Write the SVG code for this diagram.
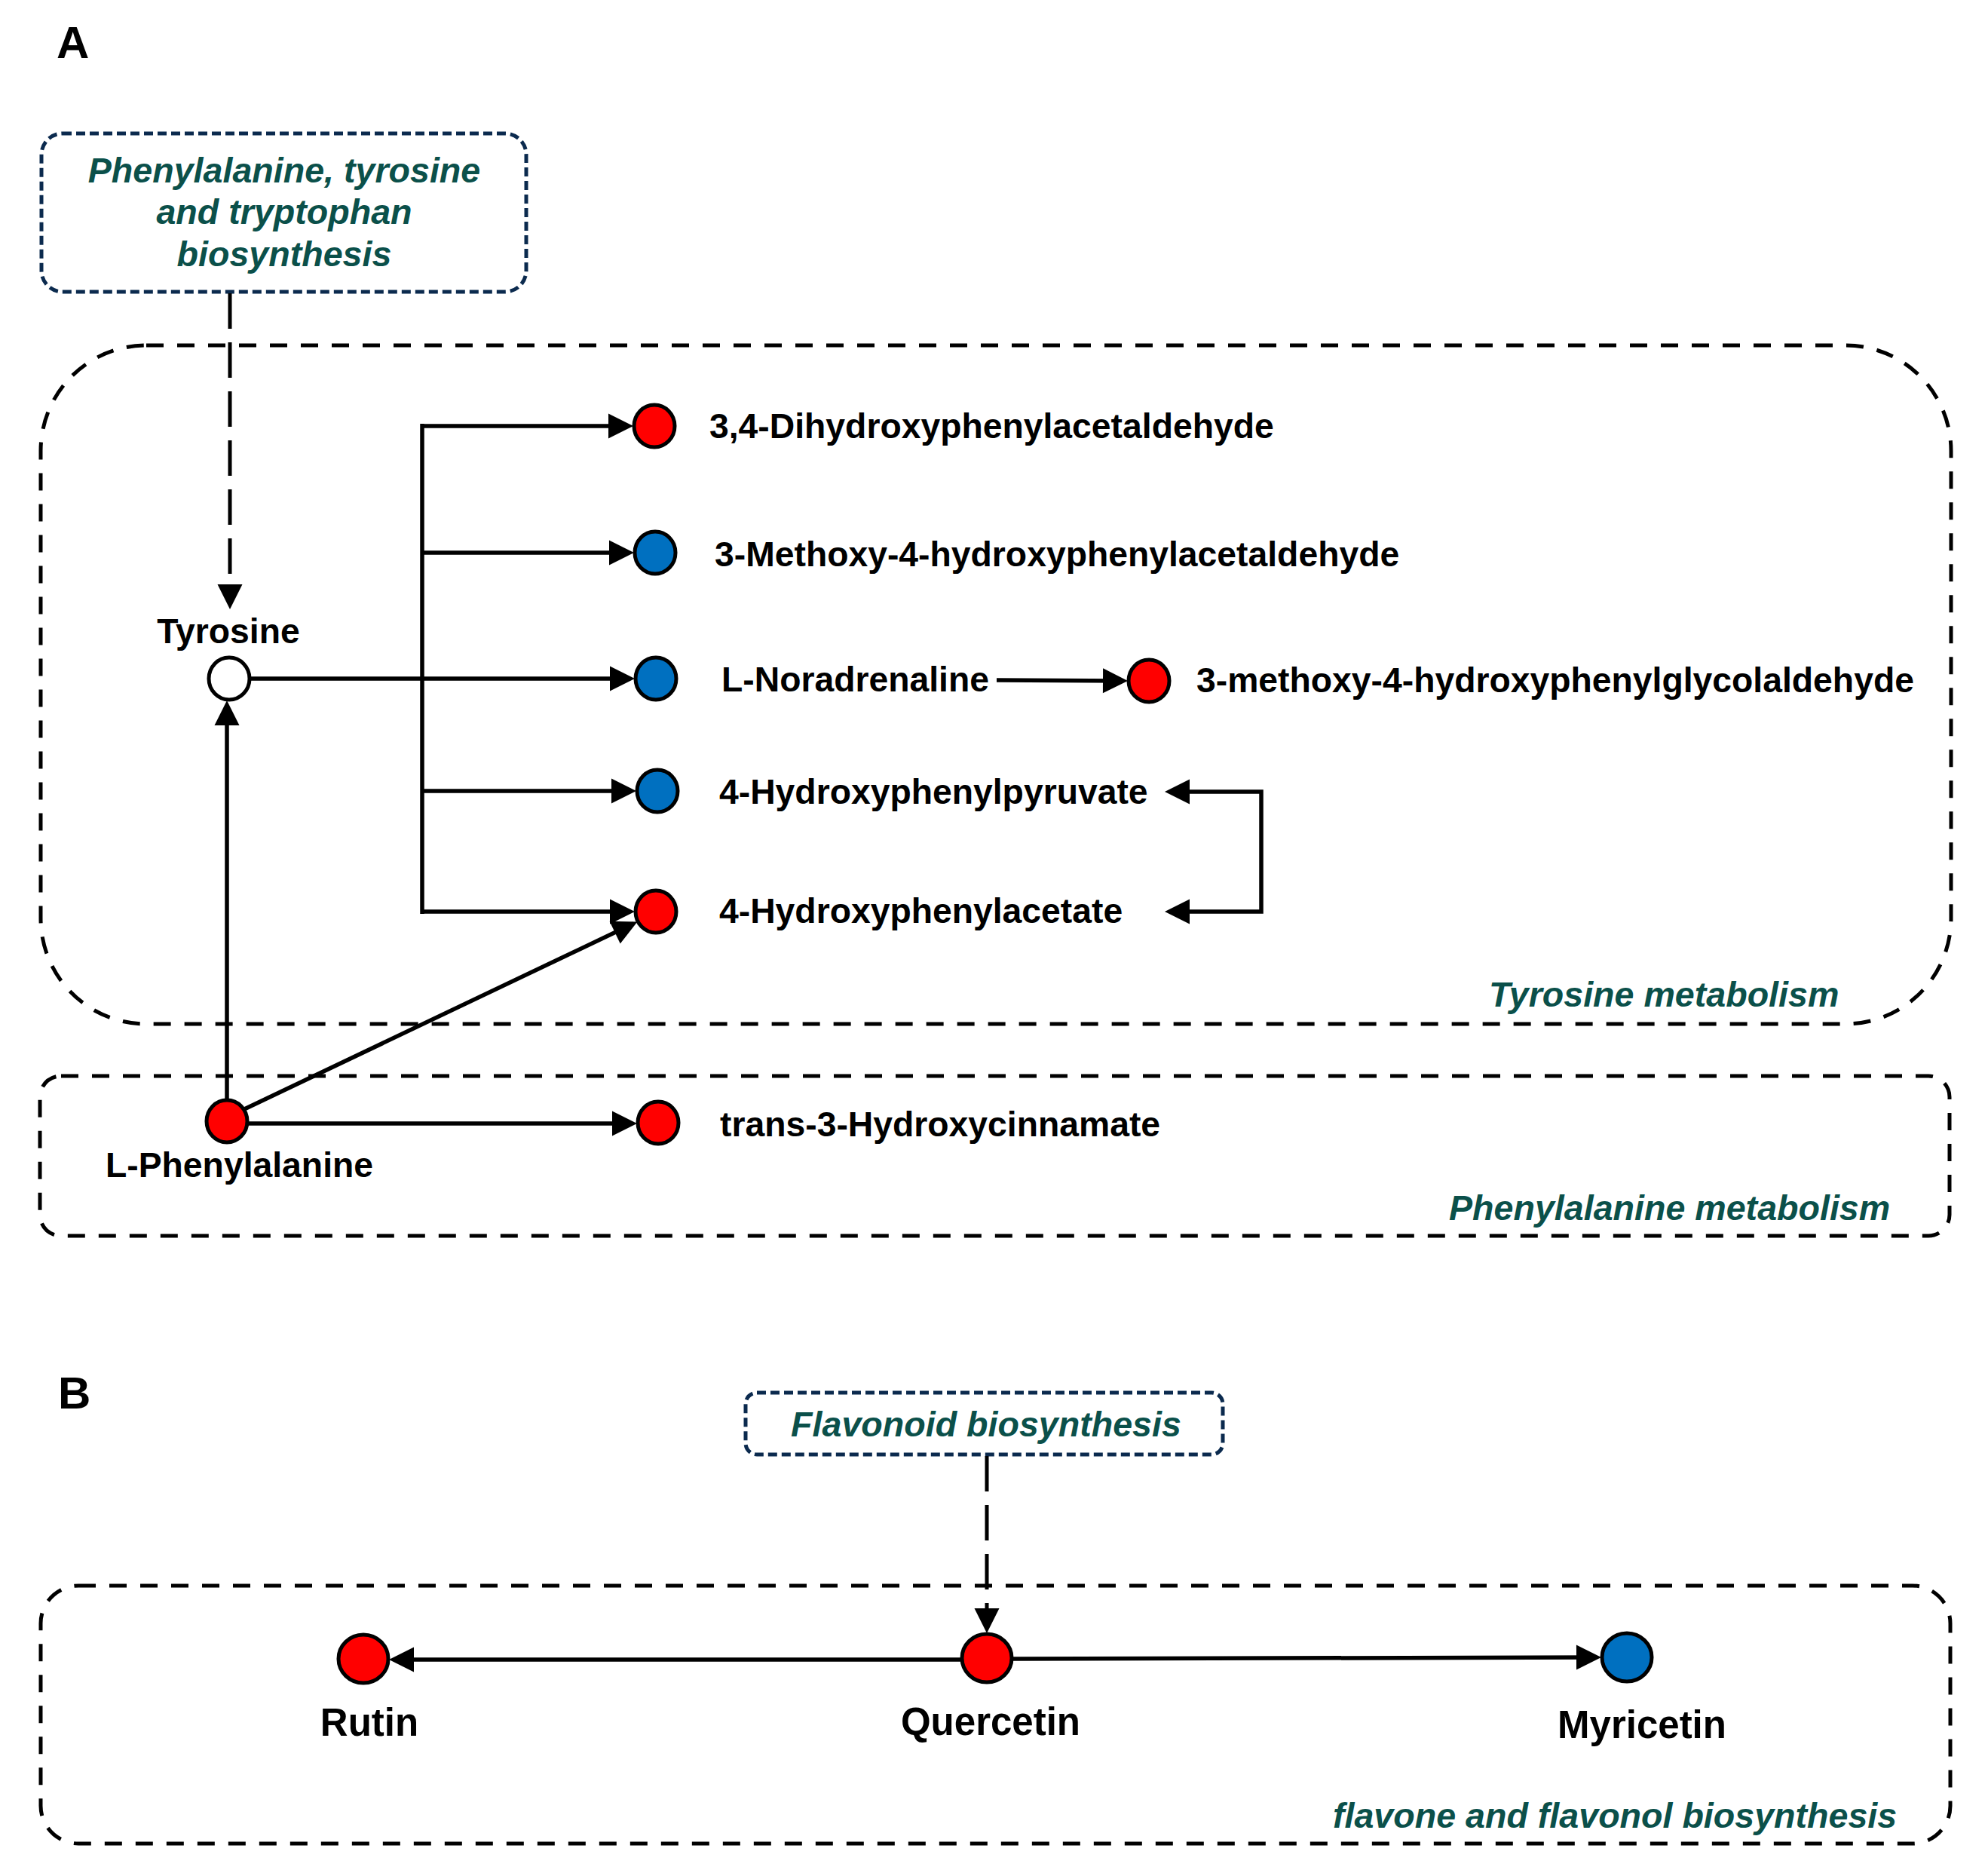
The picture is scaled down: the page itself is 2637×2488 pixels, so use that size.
<svg xmlns="http://www.w3.org/2000/svg" width="2637" height="2488" viewBox="0 0 2637 2488">
<style>
text{font-family:"Liberation Sans",Arial,sans-serif;font-weight:bold;}
.lbl{font-size:46.3px;fill:#000;}
.lblB{font-size:51px;fill:#000;}
.grp{font-size:46.6px;font-style:italic;fill:#0B504A;}
.panel{font-size:60px;fill:#000;}
.box{fill:none;stroke:#000;stroke-width:5;stroke-dasharray:23 18;}
.nbox{fill:none;stroke:#0B2A4E;stroke-width:5;stroke-dasharray:12 6;}
.node{stroke:#000;stroke-width:5;}
.red{fill:#FF0000;}
.blue{fill:#0070C0;}
.white{fill:#FFFFFF;}
.edge{fill:none;stroke:#000;stroke-width:5.5;marker-end:url(#ah);}
.dedge{fill:none;stroke:#000;stroke-width:5;stroke-dasharray:47 18;marker-end:url(#ah);}
.plain{fill:none;stroke:#000;stroke-width:5.5;}
</style>
<defs>
<marker id="ah" markerUnits="userSpaceOnUse" markerWidth="34" markerHeight="34" refX="27" refY="16.5" orient="auto-start-reverse" overflow="visible">
<path d="M0,0 L33,16.5 L0,33 Z" fill="#000"/>
</marker>
</defs>
<rect width="2637" height="2488" fill="#FFFFFF"/>

<text class="panel" x="75" y="77">A</text>
<text class="panel" x="77" y="1868">B</text>

<g id="box-ptt">
<rect class="nbox" x="55" y="177" width="643" height="210" rx="28" ry="28"/>
<text class="grp" text-anchor="middle" x="377" y="242">Phenylalanine, tyrosine</text>
<text class="grp" text-anchor="middle" x="377" y="297">and tryptophan</text>
<text class="grp" text-anchor="middle" x="377" y="353">biosynthesis</text>
</g>
<g id="box-tyrosine-metabolism">
<rect class="box" x="54" y="458" width="2534" height="900" rx="140" ry="140"/>
<text class="grp" x="1975" y="1335">Tyrosine metabolism</text>
</g>
<g id="box-phenylalanine-metabolism">
<rect class="box" x="53" y="1427" width="2533" height="212" rx="28" ry="28"/>
<text class="grp" x="1922" y="1618">Phenylalanine metabolism</text>
</g>
<g id="box-flavonoid">
<rect class="nbox" x="989" y="1847" width="633" height="82" rx="15" ry="15"/>
<text class="grp" text-anchor="middle" x="1308" y="1905">Flavonoid biosynthesis</text>
</g>
<g id="box-flavone">
<rect class="box" x="54" y="2103" width="2533" height="342" rx="50" ry="50"/>
<text class="grp" x="1768" y="2424">flavone and flavonol biosynthesis</text>
</g>

<g id="connectors">
<line class="dedge" x1="305" y1="389" x2="305" y2="802"/>
<line class="plain" x1="560" y1="562" x2="560" y2="1212"/>
<line class="edge" x1="558" y1="565" x2="834" y2="565"/>
<line class="edge" x1="560" y1="733" x2="835" y2="733"/>
<line class="edge" x1="332" y1="900" x2="836" y2="900"/>
<line class="edge" x1="560" y1="1049" x2="838" y2="1049"/>
<line class="edge" x1="558" y1="1209" x2="836" y2="1209"/>
<line class="edge" x1="1322" y1="902" x2="1490" y2="903"/>
<path class="plain" d="M1551,1050 H1673 V1209 H1551" style="marker-start:url(#ah);marker-end:url(#ah)"/>
<line class="edge" x1="301" y1="1459" x2="301" y2="935"/>
<line class="edge" x1="322" y1="1472" x2="840" y2="1225"/>
<line class="edge" x1="329" y1="1490" x2="839" y2="1490"/>
<line class="dedge" x1="1309" y1="1931" x2="1309" y2="2160"/>
<line class="edge" x1="1275" y1="2201" x2="522" y2="2201"/>
<line class="edge" x1="1343" y1="2200" x2="2118" y2="2198"/>
</g>

<g id="node-tyrosine">
<ellipse class="node white" cx="304" cy="900" rx="27" ry="28"/>
<text class="lbl" text-anchor="middle" x="303" y="853">Tyrosine</text>
</g>
<g id="node-dopal">
<ellipse class="node red" cx="868" cy="565" rx="27" ry="28"/>
<text class="lbl" x="941" y="581">3,4-Dihydroxyphenylacetaldehyde</text>
</g>
<g id="node-mopal">
<ellipse class="node blue" cx="869" cy="733" rx="27" ry="28"/>
<text class="lbl" x="948" y="751">3-Methoxy-4-hydroxyphenylacetaldehyde</text>
</g>
<g id="node-noradrenaline">
<ellipse class="node blue" cx="870" cy="900" rx="27" ry="28"/>
<text class="lbl" x="957" y="917">L-Noradrenaline</text>
</g>
<g id="node-mhpg-aldehyde">
<ellipse class="node red" cx="1524" cy="903" rx="27" ry="28"/>
<text class="lbl" x="1587" y="918">3-methoxy-4-hydroxyphenylglycolaldehyde</text>
</g>
<g id="node-hpp">
<ellipse class="node blue" cx="872" cy="1049" rx="27" ry="28"/>
<text class="lbl" x="954" y="1066">4-Hydroxyphenylpyruvate</text>
</g>
<g id="node-hpa">
<ellipse class="node red" cx="870" cy="1209" rx="27" ry="28"/>
<text class="lbl" x="954" y="1224">4-Hydroxyphenylacetate</text>
</g>
<g id="node-phenylalanine">
<ellipse class="node red" cx="301" cy="1487" rx="27" ry="28"/>
<text class="lbl" x="140" y="1561">L-Phenylalanine</text>
</g>
<g id="node-hydroxycinnamate">
<ellipse class="node red" cx="873" cy="1489" rx="27" ry="28"/>
<text class="lbl" x="955" y="1507">trans-3-Hydroxycinnamate</text>
</g>

<g id="node-rutin">
<ellipse class="node red" cx="482" cy="2200" rx="33" ry="32"/>
<text class="lblB" text-anchor="middle" x="490" y="2302">Rutin</text>
</g>
<g id="node-quercetin">
<ellipse class="node red" cx="1309" cy="2199" rx="33" ry="32"/>
<text class="lblB" text-anchor="middle" x="1314" y="2301">Quercetin</text>
</g>
<g id="node-myricetin">
<ellipse class="node blue" cx="2158" cy="2198" rx="33" ry="32"/>
<text class="lblB" text-anchor="middle" x="2178" y="2305">Myricetin</text>
</g>
</svg>
